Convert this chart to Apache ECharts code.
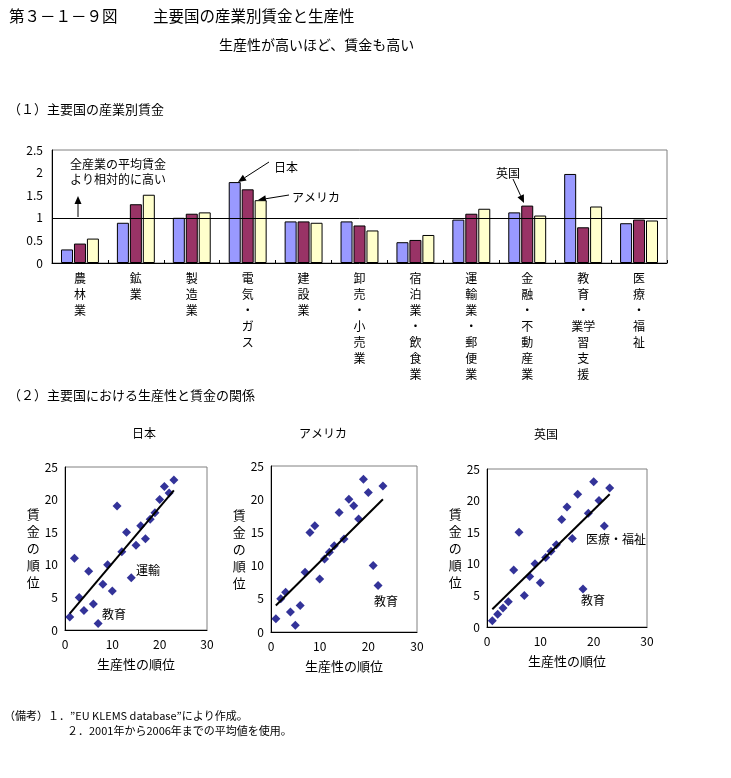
<!DOCTYPE html>
<html><head><meta charset="utf-8">
<script src="https://cdn.jsdelivr.net/npm/echarts@6/dist/echarts.min.js"></script>
<style>html,body{margin:0;padding:0;background:#fff}#c{width:731px;height:778px}</style>
</head><body><div id="c"></div>
<script>
const FONT = '"Noto Sans CJK JP", "Noto Sans CJK SC", sans-serif';

// (1) relative wages by industry (all-industry average = 1)
const categoryLabels = ['農\n林\n業', '鉱\n業', '製\n造\n業', '電\n気\n・\nガ\nス', '建\n設\n業',
  '卸\n売\n・\n小\n売\n業', '宿\n泊\n業\n・\n飲\n食\n業', '運\n輸\n業\n・\n郵\n便\n業',
  '金\n融\n・\n不\n動\n産\n業', '教\n育\n・\n業学\n習\n支\n援', '医\n療\n・\n福\n祉'];
const japanWage = [0.30, 0.89, 1.00, 1.79, 0.92, 0.92, 0.46, 0.96, 1.12, 1.97, 0.88];
const usWage    = [0.43, 1.30, 1.09, 1.63, 0.92, 0.83, 0.51, 1.09, 1.27, 0.79, 0.96];
const ukWage    = [0.54, 1.51, 1.12, 1.39, 0.89, 0.72, 0.62, 1.20, 1.05, 1.25, 0.94];
const averageLevel = 1;

// (2) productivity rank vs wage rank
const japanRank = [[1,2],[2,11],[3,5],[4,3],[5,9],[6,4],[7,1],[8,7],[9,10],[10,6],[11,19],[12,12],
  [13,15],[14,8],[15,13],[16,16],[17,14],[18,17],[19,18],[20,20],[21,22],[22,21],[23,23]];
const usRank = [[1,2],[2,5],[3,6],[4,3],[5,1],[6,4],[7,9],[8,15],[9,16],[10,8],[11,11],[12,12],
  [13,13],[14,18],[15,14],[16,20],[17,19],[18,17],[19,23],[20,21],[21,10],[22,7],[23,22]];
const ukRank = [[1,1],[2,2],[3,3],[4,4],[5,9],[6,15],[7,5],[8,8],[9,10],[10,7],[11,11],[12,12],
  [13,13],[14,17],[15,19],[16,14],[17,21],[18,6],[19,18],[20,23],[21,20],[22,16],[23,22]];
const japanTrend = [[1,2.5],[23,21.4]];
const usTrend = [[1,4.0],[23,20.0]];
const ukTrend = [[1,2.8],[23,21.0]];

const chart = echarts.init(document.getElementById('c'), null, {renderer: 'canvas'});

const txt = (text, x, y, size, align, extra) => Object.assign({
  type: 'text', silent: true,
  style: {text, x, y, fontSize: size || 12, fontFamily: FONT, fill: '#000',
          align: align || 'left', verticalAlign: 'middle'}
}, extra || {});

function arrow(x1, y1, x2, y2) {
  const ang = Math.atan2(y2 - y1, x2 - x1);
  const L = 8, W = 3.5;
  const bx = x2 - L * Math.cos(ang), by = y2 - L * Math.sin(ang);
  const px = -Math.sin(ang) * W, py = Math.cos(ang) * W;
  return [
    {type: 'line', silent: true, shape: {x1, y1, x2: bx, y2: by}, style: {stroke: '#000', lineWidth: 1}},
    {type: 'polygon', silent: true, shape: {points: [[x2, y2], [bx + px, by + py], [bx - px, by - py]]},
     style: {fill: '#000'}}
  ];
}

const scatterAxisLabel = {fontSize: 12, fontFamily: FONT, color: '#000'};
function scatterAxes(gi) {
  return {
    x: {type: 'value', gridIndex: gi, min: 0, max: 30, interval: 10,
        axisLine: {show: true, lineStyle: {color: '#000'}}, axisTick: {show: false},
        splitLine: {show: false}, axisLabel: Object.assign({margin: 8}, scatterAxisLabel),
        name: '生産性の順位', nameLocation: 'middle', nameGap: 28,
        nameTextStyle: {fontSize: 13, fontFamily: FONT, color: '#000'}},
    y: {type: 'value', gridIndex: gi, min: 0, max: 25, interval: 5,
        axisLine: {show: true, lineStyle: {color: '#000'}}, axisTick: {show: false},
        splitLine: {show: false}, axisLabel: Object.assign({margin: 7}, scatterAxisLabel),
        name: '賃\n金\nの\n順\n位', nameLocation: 'middle', nameGap: 24, nameRotate: 0,
        nameTextStyle: {fontSize: 13, fontFamily: FONT, color: '#000', lineHeight: 17}}
  };
}
const axJ = scatterAxes(1), axU = scatterAxes(2), axK = scatterAxes(3);

const scatterStyle = {symbol: 'diamond', symbolSize: 9, itemStyle: {color: '#000080'}};
const trendStyle = {type: 'line', symbol: 'none', lineStyle: {color: '#000', width: 2}, silent: true};
const barBase = {type: 'bar', xAxisIndex: 0, yAxisIndex: 0, barWidth: 12, barGap: '8%',
  itemStyle: {borderColor: '#000', borderWidth: 1}};

chart.setOption({
  animation: false,
  backgroundColor: '#fff',
  textStyle: {fontFamily: FONT},
  grid: [
    {left: 52, top: 150, width: 615, height: 113, show: true, borderColor: '#808080', borderWidth: 1},
    {left: 65, top: 467, width: 142, height: 163, show: true, borderColor: '#808080', borderWidth: 1},
    {left: 271, top: 466, width: 146, height: 166, show: true, borderColor: '#808080', borderWidth: 1},
    {left: 487, top: 469, width: 160, height: 158, show: true, borderColor: '#808080', borderWidth: 1}
  ],
  xAxis: [
    {type: 'category', gridIndex: 0, data: categoryLabels,
     axisLine: {lineStyle: {color: '#000'}},
     axisTick: {show: true, inside: true, length: 3, lineStyle: {color: '#000'}},
     axisLabel: {interval: 0, fontSize: 12, fontFamily: FONT, color: '#000', lineHeight: 16,
                 margin: 7, verticalAlign: 'top'}},
    axJ.x, axU.x, axK.x
  ],
  yAxis: [
    {type: 'value', gridIndex: 0, min: 0, max: 2.5, interval: 0.5,
     axisLine: {show: true, lineStyle: {color: '#000'}}, axisTick: {show: false},
     splitLine: {show: false},
     axisLabel: {fontSize: 12, fontFamily: FONT, color: '#000', margin: 9}},
    axJ.y, axU.y, axK.y
  ],
  series: [
    Object.assign({}, barBase, {name: '日本', data: japanWage, itemStyle: {color: '#9999FF', borderColor: '#000', borderWidth: 1},
      markLine: {silent: true, symbol: 'none', label: {show: false},
        lineStyle: {color: '#000', width: 1, type: 'solid'}, data: [{yAxis: averageLevel}]}}),
    Object.assign({}, barBase, {name: 'アメリカ', data: usWage, itemStyle: {color: '#993366', borderColor: '#000', borderWidth: 1}}),
    Object.assign({}, barBase, {name: '英国', data: ukWage, itemStyle: {color: '#FFFFCC', borderColor: '#000', borderWidth: 1}}),
    Object.assign({type: 'scatter', xAxisIndex: 1, yAxisIndex: 1, data: japanRank}, scatterStyle),
    Object.assign({}, trendStyle, {xAxisIndex: 1, yAxisIndex: 1, data: japanTrend}),
    Object.assign({type: 'scatter', xAxisIndex: 2, yAxisIndex: 2, data: usRank}, scatterStyle),
    Object.assign({}, trendStyle, {xAxisIndex: 2, yAxisIndex: 2, data: usTrend}),
    Object.assign({type: 'scatter', xAxisIndex: 3, yAxisIndex: 3, data: ukRank}, scatterStyle),
    Object.assign({}, trendStyle, {xAxisIndex: 3, yAxisIndex: 3, data: ukTrend})
  ],
  graphic: [
    txt('第３－１－９図', 9, 16, 15.5),
    txt('主要国の産業別賃金と生産性', 153, 16, 15.5),
    txt('生産性が高いほど、賃金も高い', 219, 45, 14),
    txt('（１）主要国の産業別賃金', 8, 109, 13),
    txt('全産業の平均賃金', 70, 164, 12),
    txt('より相対的に高い', 70, 179, 12),
    ...arrow(78, 217, 78, 196),
    txt('日本', 274, 167, 12),
    ...arrow(269, 162, 238, 182),
    txt('アメリカ', 292, 197, 12),
    ...arrow(289, 195, 258, 200),
    txt('英国', 496, 173, 12),
    ...arrow(513, 179, 524, 203),
    txt('（２）主要国における生産性と賃金の関係', 8, 395, 13),
    txt('日本', 144, 433, 12, 'center'),
    txt('アメリカ', 323, 433, 12, 'center'),
    txt('英国', 546, 434, 12, 'center'),
    txt('運輸', 148, 570, 12, 'center'),
    txt('教育', 114, 614, 12, 'center'),
    txt('教育', 386, 601, 12, 'center'),
    txt('医療・福祉', 616, 539, 12, 'center'),
    txt('教育', 593, 600, 12, 'center'),
    txt('（備考）１．”EU KLEMS database”により作成。', 4, 716, 11),
    txt('２．2001年から2006年までの平均値を使用。', 67, 731, 11)
  ]
});
</script>
</body></html>
